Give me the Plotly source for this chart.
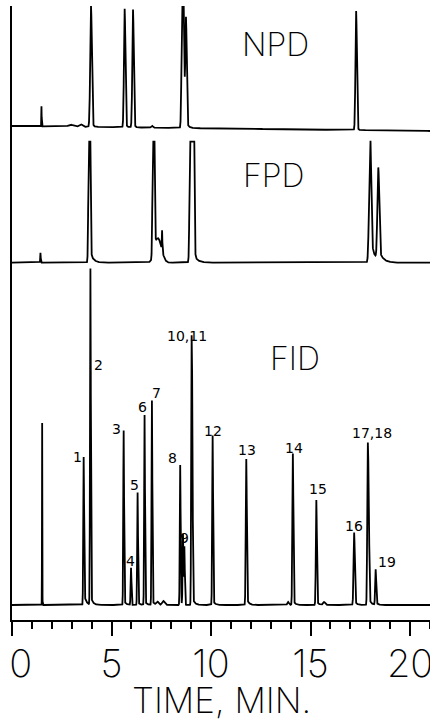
import numpy as np
import plotly.graph_objects as go

# ---------------- data ----------------
# retention times (min), peak heights (detector units), peak widths (sigma, min),
# tail amplitudes and tail decay constants (min)
npd_rt     = [1.48, 2.95, 3.45, 3.97, 5.66, 6.08, 7.03, 8.55, 8.62, 8.74, 17.29]
npd_height = [20,   2,    2.5,  118,  116,  116,  2,    116,  114,  108,  118]
npd_width  = [0.008, 0.12, 0.08, 0.04, 0.035, 0.035, 0.04, 0.035, 0.035, 0.035, 0.035]
npd_tail   = [0,    0,    0,    6,    5,    4,    0,    0,    0,    6,    2]
npd_tau    = [0.1,  0.1,  0.1,  0.08, 0.08, 0.08, 0.1,  0.1,  0.1,  0.12, 0.1]
npd_drift  = [0.0, -5.0]          # baseline at start / end of run

fpd_rt     = [1.43, 3.89, 7.11, 7.35, 7.54, 9.04, 17.99, 18.40]
fpd_height = [10,   300,  300,  22,   20,   2000, 118,   86]
fpd_width  = [0.012, 0.035, 0.035, 0.17, 0.012, 0.05, 0.05, 0.045]
fpd_tail   = [0,    14,   12,   0,    0,    14,   25,    12]
fpd_tau    = [0.1,  0.15, 0.15, 0.1,  0.1,  0.18, 0.2,   0.2]
fpd_limit  = 121                  # recorder full scale

fid_rt     = [1.515, 3.60, 3.94, 5.61, 5.98, 6.31, 6.66, 7.03, 7.31, 7.60,
              8.45, 8.59, 8.66, 9.02, 9.06, 10.08, 11.77, 13.87, 14.11,
              15.29, 15.68, 17.19, 17.87, 17.92, 18.27]
fid_height = [182, 141, 331, 172, 37, 111, 188, 202, 3, 4,
              138, 70, 58, 240, 170, 167, 142, 3, 149,
              103, 3, 70, 145, 100, 34]
fid_width  = [0.008, 0.02, 0.02, 0.02, 0.02, 0.02, 0.02, 0.02, 0.05, 0.06,
              0.02, 0.02, 0.02, 0.02, 0.02, 0.022, 0.025, 0.04, 0.025,
              0.025, 0.05, 0.03, 0.025, 0.025, 0.025]
fid_tail   = [0, 14, 10, 5, 0, 3, 4, 5, 0, 0,
              4, 0, 0, 0, 8, 5, 8, 0, 5,
              4, 0, 5, 0, 8, 3]
fid_tau    = [0.1] * 25

peak_labels = ["1", "2", "3", "4", "5", "6", "7", "8", "9", "10,11",
               "12", "13", "14", "15", "16", "17,18", "19"]

detectors = ["NPD", "FPD", "FID"]
x_ticks = [0, 5, 10, 15, 20]
x_title = "TIME, MIN."

# ---------------- layout helpers (positions, not data) ----------------
offsets = {"NPD": 494, "FPD": 357.3, "FID": 15}
label_pos = [(3.30, 163), (4.34, 255), (5.23, 191), (5.95, 59), (6.15, 135),
             (6.56, 213), (7.24, 227), (8.04, 162), (8.66, 82), (8.79, 284),
             (10.09, 189), (11.80, 170), (14.19, 172), (15.39, 131),
             (17.20, 94), (18.07, 187), (18.83, 58)]
det_pos = {"NPD": (13.24, 576), "FPD": (13.14, 445), "FID": (14.22, 262)}

t = np.arange(0, 21.0001, 0.0025)


def trace_signal(rts, hs, ws, tails, taus):
    sig = np.zeros_like(t)
    for t0, h, s, a, tau in zip(rts, hs, ws, tails, taus):
        dt = t - t0
        sig += h * np.exp(-0.5 * (dt / s) ** 2)
        if a > 0:
            onset = 1.0 / (1.0 + np.exp(-np.clip(dt / (0.5 * s), -50, 50)))
            sig += a * np.exp(-np.clip(dt, 0, None) / tau) * onset
    return sig


npd = trace_signal(npd_rt, npd_height, npd_width, npd_tail, npd_tau)
npd = npd + np.interp(t, [0, 21], npd_drift)
fpd = np.minimum(trace_signal(fpd_rt, fpd_height, fpd_width, fpd_tail, fpd_tau), fpd_limit)
fid = trace_signal(fid_rt, fid_height, fid_width, fid_tail, fid_tau)

fig = go.Figure()
for name, sig in zip(detectors, [npd, fpd, fid]):
    fig.add_trace(go.Scatter(x=t, y=sig + offsets[name], mode="lines",
                             line=dict(color="black", width=1.8),
                             hoverinfo="skip", showlegend=False))

big_font = dict(family="Inter, DejaVu Sans, sans-serif", color="black", weight=200)

annotations = []
for txt, (x, y) in zip(peak_labels, label_pos):
    annotations.append(dict(x=x, y=y, text=txt, showarrow=False,
                            font=dict(family="DejaVu Sans", size=14, color="black"),
                            xanchor="center", yanchor="middle"))
for name in detectors:
    x, y = det_pos[name]
    annotations.append(dict(x=x, y=y, text=name, showarrow=False,
                            font=dict(big_font, size=32),
                            xanchor="center", yanchor="middle"))
# axis title (placed in the bottom margin)
annotations.append(dict(x=0.5, y=-0.130, xref="paper", yref="paper",
                        text=x_title, showarrow=False,
                        font=dict(big_font, size=35),
                        xanchor="center", yanchor="middle"))

tick_text = ["\u00a0\u2009" + str(v) if v == 0 else str(v) for v in x_ticks]

fig.update_layout(
    width=430, height=719,
    margin=dict(l=12, r=0, t=6, b=99, autoexpand=False),
    paper_bgcolor="white", plot_bgcolor="white",
    annotations=annotations,
    xaxis=dict(range=[0, 21], showgrid=False, zeroline=False, automargin=False,
               showline=True, linecolor="black", linewidth=2,
               ticks="outside", ticklen=14, tickwidth=1.5, tickcolor="black",
               tickvals=x_ticks, ticktext=tick_text,
               tickfont=dict(big_font, size=38),
               ticklabeloverflow="allow", ticklabelstandoff=-5,
               minor=dict(dtick=1, ticks="outside", ticklen=7,
                          tickwidth=1.5, tickcolor="black", showgrid=False)),
    yaxis=dict(range=[0, 614], showgrid=False, zeroline=False, automargin=False,
               showline=True, linecolor="black", linewidth=1.5,
               showticklabels=False, ticks=""),
)

fig.write_html("out.html",
               config={"displayModeBar": False},
               post_script="document.body.style.margin='0';"
                           "document.body.style.overflow='hidden';")
